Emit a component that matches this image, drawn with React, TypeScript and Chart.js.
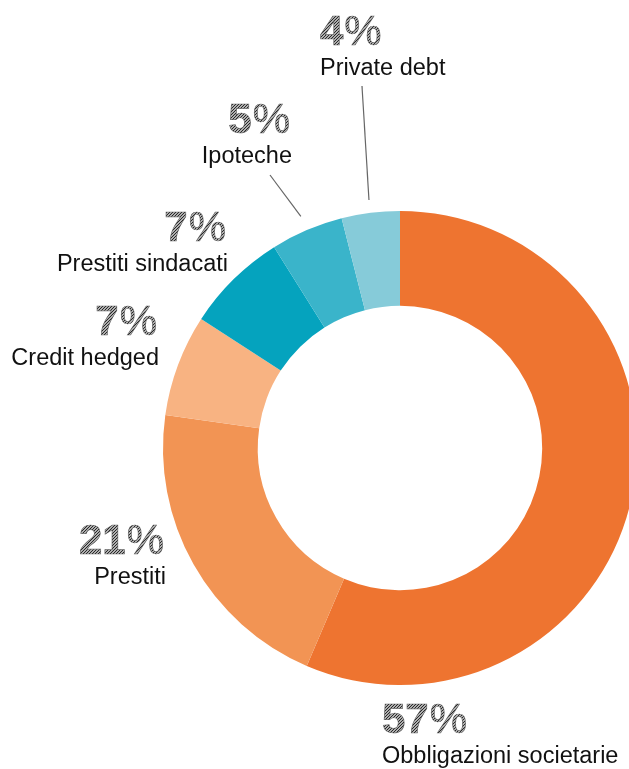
import React, { useEffect, useRef } from "react";
import { Chart, registerables } from "chart.js";

Chart.register(...registerables);

const categories = [
  "Obbligazioni societarie",
  "Prestiti",
  "Credit hedged",
  "Prestiti sindacati",
  "Ipoteche",
  "Private debt",
];
const values = [57, 21, 7, 7, 5, 4];
const percentLabels = ["57", "21", "7", "7", "5", "4"];
const colors = ["#EE7430", "#F29454", "#F8B382", "#05A3BE", "#3AB4CA", "#86CBD9"];

// label layout relative to doughnut centre (dx, baseline dy of the %), alignment, optional leader start
const labelLayout = [
  { dx: -18, dy: 285, align: "left", leader: null },
  { dx: -236, dy: 106, align: "right", leader: null },
  { dx: -243, dy: -113, align: "right", leader: null },
  { dx: -174, dy: -207, align: "right", leader: null },
  { dx: -110, dy: -315, align: "right", leader: { dx: -130, dy: -273, gap: 15 } },
  { dx: -80, dy: -403, align: "left", leader: { dx: -38, dy: -362, gap: 13 } },
];

const FONT = '"Liberation Sans", Arial, Helvetica, sans-serif';

function makeHatch(ctx: CanvasRenderingContext2D): CanvasPattern | string {
  const t = document.createElement("canvas");
  t.width = 3;
  t.height = 3;
  const tc = t.getContext("2d");
  if (!tc) return "#777";
  const img = tc.createImageData(3, 3);
  for (let y = 0; y < 3; y++) {
    for (let x = 0; x < 3; x++) {
      const i = (y * 3 + x) * 4;
      const dark = (x + y) % 3 === 0;
      const v = dark ? 40 : 175;
      img.data[i] = v;
      img.data[i + 1] = v;
      img.data[i + 2] = v;
      img.data[i + 3] = 255;
    }
  }
  tc.putImageData(img, 0, 0);
  return ctx.createPattern(t, "repeat") || "#777";
}

const labelPlugin = {
  id: "donutLabels",
  afterDraw(chart: any) {
    const ctx: CanvasRenderingContext2D = chart.ctx;
    const meta = chart.getDatasetMeta(0);
    const first = meta.data[0];
    const cx = first.x;
    const cy = first.y;
    const hatch = makeHatch(ctx);
    ctx.save();
    meta.data.forEach((arc: any, i: number) => {
      const lay = labelLayout[i];
      const x = cx + lay.dx;
      const by = cy + lay.dy;
      const digits = percentLabels[i];
      const pctSize = 42;
      const boldFont = `bold ${pctSize}px ${FONT}`;
      const normFont = `normal ${pctSize}px ${FONT}`;
      ctx.font = boldFont;
      const dw = ctx.measureText(digits).width;
      ctx.font = normFont;
      const pw = ctx.measureText("%").width;
      const total = dw + pw + 1;
      const startX = lay.align === "left" ? x : x - total;
      ctx.textAlign = "left";
      ctx.textBaseline = "alphabetic";
      ctx.fillStyle = hatch as any;
      ctx.strokeStyle = "rgba(80,80,80,0.8)";
      ctx.lineWidth = 0.7;
      ctx.font = boldFont;
      ctx.fillText(digits, startX, by);
      ctx.strokeText(digits, startX, by);
      ctx.font = normFont;
      ctx.fillText("%", startX + dw + 1, by);
      ctx.strokeText("%", startX + dw + 1, by);

      ctx.fillStyle = "#111";
      ctx.font = `normal 23.5px ${FONT}`;
      ctx.textAlign = lay.align as CanvasTextAlign;
      ctx.fillText(categories[i], lay.align === "left" ? x : x + 2, by + 30);

      if (lay.leader) {
        const mid = (arc.startAngle + arc.endAngle) / 2;
        const r = arc.outerRadius + lay.leader.gap;
        const ex = cx + Math.cos(mid) * r;
        const ey = cy + Math.sin(mid) * r;
        ctx.beginPath();
        ctx.strokeStyle = "#666";
        ctx.lineWidth = 1.2;
        ctx.moveTo(cx + lay.leader.dx, cy + lay.leader.dy);
        ctx.lineTo(ex, ey);
        ctx.stroke();
      }
    });
    ctx.restore();
  },
};

export default function App() {
  const ref = useRef<HTMLCanvasElement | null>(null);
  useEffect(() => {
    if (!ref.current) return;
    const chart = new Chart(ref.current, {
      type: "doughnut",
      data: {
        labels: categories,
        datasets: [
          {
            data: values,
            backgroundColor: colors,
            borderWidth: 0,
          },
        ],
      },
      options: {
        responsive: false,
        animation: false,
        cutout: "60%",
        layout: { padding: { left: 163, right: 163, top: 211, bottom: 84 } },
        plugins: {
          legend: { display: false },
          tooltip: { enabled: false },
        },
      },
      plugins: [labelPlugin],
    });
    return () => chart.destroy();
  }, []);
  return (
    <div
      style={{
        position: "fixed",
        left: 0,
        top: 0,
        width: 629,
        height: 769,
        overflow: "hidden",
        background: "#fff",
      }}
    >
      <canvas ref={ref} width={800} height={769} style={{ display: "block", width: 800, height: 769 }} />
    </div>
  );
}
